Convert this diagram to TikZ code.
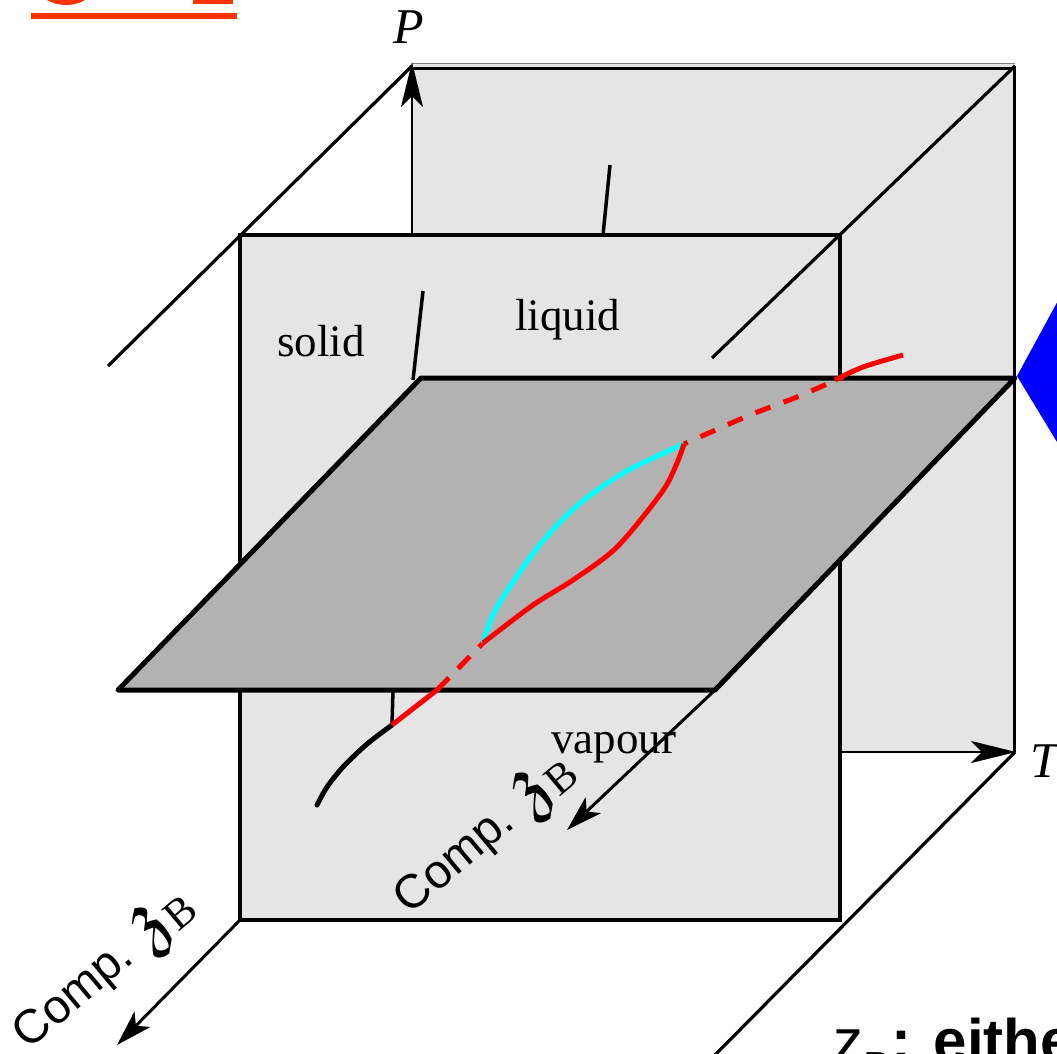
\documentclass[tikz,border=0pt]{standalone}
\usepackage{fontspec}
\usepackage{graphicx}
\usepackage{amsfonts}
\setmainfont{Liberation Serif}
\setsansfont{Liberation Sans}
\usetikzlibrary{arrows.meta}
\definecolor{panelgray}{HTML}{E5E5E5}
\definecolor{planegray}{HTML}{B2B2B2}
\definecolor{orangered}{HTML}{FF3300}
\definecolor{pureblue}{HTML}{0000FF}
\definecolor{purecyan}{HTML}{00FFFF}
\definecolor{purered}{HTML}{FF0000}
\newcommand{\compz}{Comp. \raisebox{0.3pt}{\scalebox{1.75}{$\mathfrak{z}$}}\raisebox{-1.2pt}{\rmfamily\fontsize{9}{9}\selectfont B}}
\begin{document}
\begin{tikzpicture}[x=1pt,y=-1pt,
  lbl/.style={font=\fontsize{45}{50}\selectfont, inner sep=0pt},
  axlbl/.style={font=\fontsize{50}{55}\selectfont\itshape, inner sep=0pt},
  complbl/.style={font=\sffamily, inner sep=0pt, scale=4.75, transform shape, rotate=40},
  axisarrow/.style={line width=2.5pt, -{Stealth[length=45pt,width=22pt,inset=11pt]}},
  comparrow/.style={line width=3pt, -{Stealth[length=36pt,width=22pt,inset=9pt]}},
  depth/.style={line width=3.2pt},
  phase/.style={line width=3.5pt},
  redc/.style={line width=5pt, purered},
  cyanc/.style={line width=5pt, purecyan}]
\useasboundingbox (0,0) rectangle (1057,1053);
\clip (0,0) rectangle (1057,1053);

% coordinates
\coordinate (BTL) at (412,66);
\coordinate (BTR) at (1015,66);
\coordinate (BBR) at (1015,752);
\coordinate (TS) at (840,752);
\coordinate (PB) at (412,235);
\coordinate (FTL) at (240,235);
\coordinate (FTR) at (840,235);
\coordinate (FBR) at (840,920);
\coordinate (FBL) at (240,920);
\coordinate (PTL) at (421,378);
\coordinate (PTR) at (1015,378);
\coordinate (PBR) at (715,690);
\coordinate (PBL) at (118,690);
\coordinate (DTL) at (108,366);
\coordinate (DTR) at (712,358);
\coordinate (DBR) at (712,1058);
\coordinate (ArrA) at (117,1045);
\coordinate (ArrB) at (567,830);

% orange partial heading
\fill[orangered] (66,-34) circle (39);
\fill[orangered] (193,-10) rectangle (233,3.5);
\fill[orangered] (31,12.5) rectangle (237,19);

% blue shape at right
\fill[pureblue] (1017,376) -- (1060,297) -- (1060,447) -- cycle;

% back panel
\fill[panelgray] (412,63) rectangle (1015,752);
\draw[line width=1.2pt, gray] (412,63.5) -- (1015,63.5);
\draw[line width=2.8pt] (412,68.5) -- (1015,68.5);
\draw[line width=3pt] (1014,66) -- (1014,752);
\draw[axisarrow] (PB) -- (412,62);
\draw[axisarrow] (TS) -- (1016,752);
\draw[phase] (610,165) -- (603,235);

% depth lines behind front panel
\draw[depth] (BTL) -- (DTL);
\draw[depth] (BBR) -- (DBR);

% front panel
\filldraw[fill=panelgray, line width=3.5pt] (FTL) rectangle (FBR);
\draw[depth] (BTR) -- (DTR);
\draw[phase] (423,291) -- (413,380);

% labels on front panel
\node[lbl, anchor=base west] (solid) at (277,356) {solid};
\node[lbl, anchor=base west] (liquid) at (515,330) {liquid};
\node[lbl, anchor=base west] (vapour) at (551,753) {vapour};

% plane
\filldraw[fill=planegray, line width=5pt, line join=round] (PTL) -- (PTR) -- (PBR) -- (PBL) -- cycle;

% below plane
\draw[phase] (393,690) -- (392,725);
\draw[line width=5pt, line cap=round] plot[smooth] coordinates {(392,725) (367,744) (343,767) (327,787) (317,805)};
\draw[redc] (392,725) -- (437,690);
\draw[redc, dash pattern=on 17pt off 13pt] (437,690) -- (483,643);

% lens
\draw[cyanc] plot[smooth] coordinates {(483,643) (497,607) (538,547) (578,505) (625,472) (684,444)};
\draw[redc] plot[smooth] coordinates {(483,643) (533,605) (573,580) (617,547) (662,492) (677,463) (684,444)};
\draw[redc, dash pattern=on 16pt off 14pt, dash phase=-18pt] plot[smooth] coordinates {(684,444) (750,415) (797,397) (843,377)};
\draw[redc] plot[smooth] coordinates {(835,380) (863,367) (903,355)};

% composition arrows
\draw[comparrow] (FBL) -- (ArrA);
\draw[comparrow] (PBR) -- (ArrB);
\node[complbl] (c1) at (104,970) {\compz};
\node[complbl] (c2) at (485,835) {\compz};

% axis labels
\node[axlbl, anchor=base west] (P) at (393,43) {P};
\node[axlbl, anchor=base west] (T) at (1030,777) {T};

% bottom text
\node[anchor=base west, inner sep=0pt, font=\sffamily\fontsize{60}{66}\selectfont] (zb) at (833,1061) {z\textsubscript{B}\textbf{: either}};
\end{tikzpicture}
\end{document}
